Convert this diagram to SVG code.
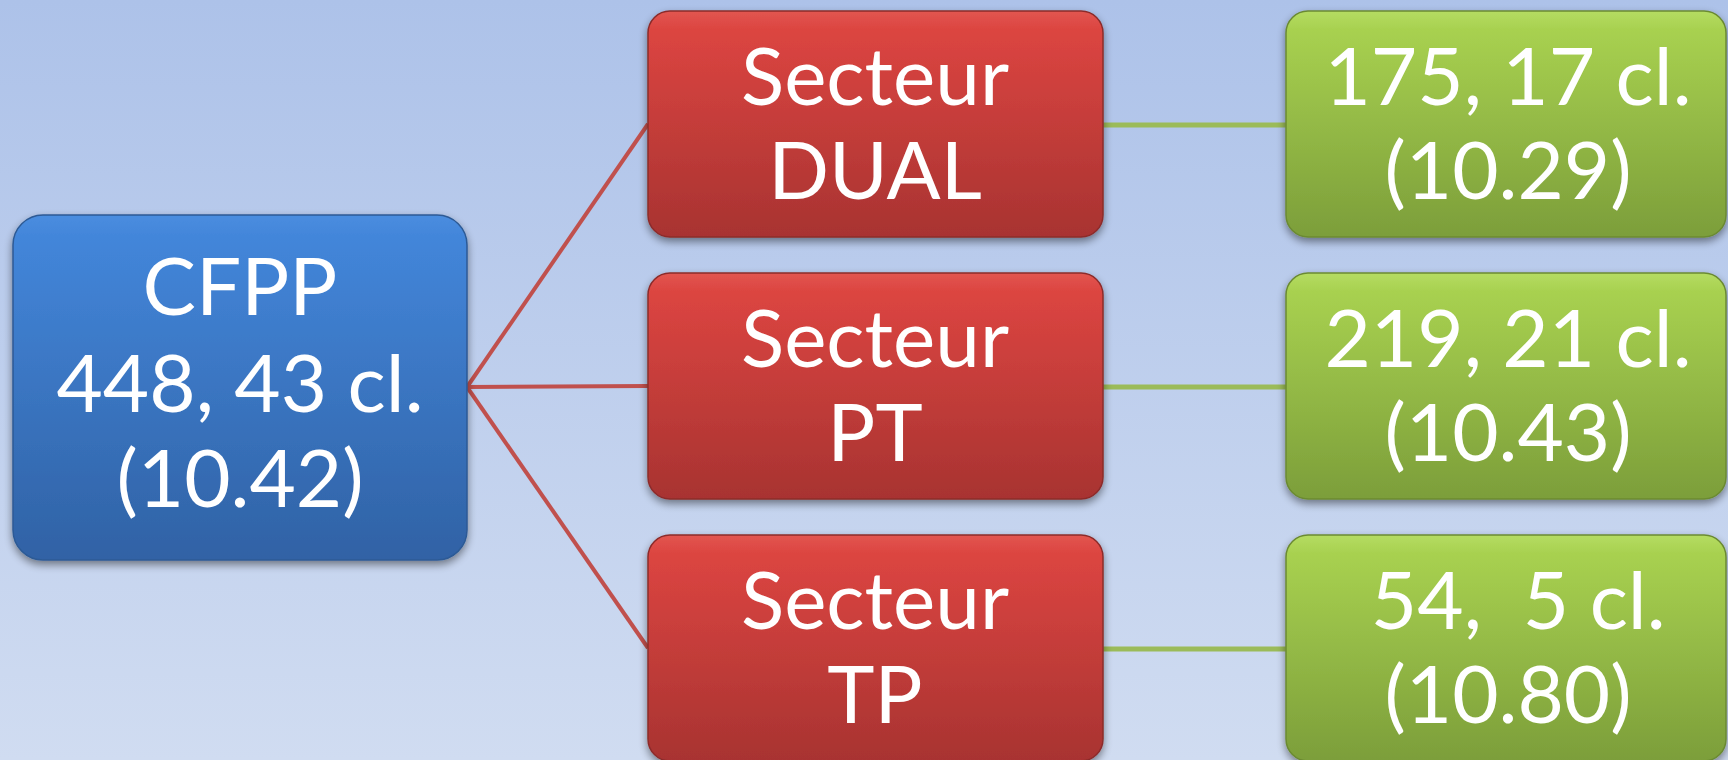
<svg xmlns="http://www.w3.org/2000/svg" width="1728" height="760" viewBox="0 0 1728 760">
  <defs>
    <linearGradient id="bg" x1="0" y1="0" x2="0" y2="1">
      <stop offset="0" stop-color="#adc2e9"/>
      <stop offset="1" stop-color="#d0dcf1"/>
    </linearGradient>
    <linearGradient id="gBlue" x1="0" y1="0" x2="0" y2="1">
      <stop offset="0" stop-color="#4a8ddf"/>
      <stop offset="0.06" stop-color="#4386da"/>
      <stop offset="1" stop-color="#3062a5"/>
    </linearGradient>
    <linearGradient id="gRed" x1="0" y1="0" x2="0" y2="1">
      <stop offset="0" stop-color="#e25650"/>
      <stop offset="0.08" stop-color="#dc4541"/>
      <stop offset="1" stop-color="#a83331"/>
    </linearGradient>
    <linearGradient id="gGreen" x1="0" y1="0" x2="0" y2="1">
      <stop offset="0" stop-color="#b5dc62"/>
      <stop offset="0.08" stop-color="#a8d150"/>
      <stop offset="1" stop-color="#7c9e3a"/>
    </linearGradient>
    <filter id="shadow" x="-10%" y="-10%" width="120%" height="125%">
      <feGaussianBlur in="SourceAlpha" stdDeviation="4"/>
      <feOffset dx="0" dy="4" result="b"/>
      <feComponentTransfer><feFuncA type="linear" slope="0.45"/></feComponentTransfer>
      <feMerge><feMergeNode/><feMergeNode in="SourceGraphic"/></feMerge>
    </filter>
  </defs>
  <style>
    .box { filter: url(#shadow); stroke-width: 1.5; }
    .blue { fill: url(#gBlue); stroke: #2d5a95; }
    .red { fill: url(#gRed); stroke: #8c2c2a; }
    .green { fill: url(#gGreen); stroke: #6b8a32; }
    .lbl { font-family: Lato, "Open Sans", sans-serif; font-size: 80px; fill: #ffffff; text-anchor: middle; }
    .cr { stroke: #c0504d; stroke-width: 4; fill: none; }
    .cg { stroke: #9bbb59; stroke-width: 5; fill: none; }
  </style>
  <rect x="0" y="0" width="1728" height="760" fill="url(#bg)"/>

  <g id="connectors">
    <line class="cr" x1="467" y1="387" x2="648" y2="124"/>
    <line class="cr" x1="467" y1="387" x2="648" y2="386"/>
    <line class="cr" x1="467" y1="387" x2="648" y2="648"/>
    <line class="cg" x1="1103" y1="125" x2="1286" y2="125"/>
    <line class="cg" x1="1103" y1="387" x2="1286" y2="387"/>
    <line class="cg" x1="1103" y1="649" x2="1286" y2="649"/>
  </g>

  <g id="cfpp">
    <rect class="box blue" x="13" y="215" width="454" height="345" rx="30"/>
    <text class="lbl" x="240" y="315">CFPP</text>
    <text class="lbl" x="240" y="412">448, 43 cl.</text>
    <text class="lbl" x="240" y="507">(10.42)</text>
  </g>

  <g id="dual">
    <rect class="box red" x="648" y="11" width="455" height="226" rx="22"/>
    <text class="lbl" x="875" y="105">Secteur</text>
    <text class="lbl" x="875" y="199">DUAL</text>
  </g>
  <g id="pt">
    <rect class="box red" x="648" y="273" width="455" height="226" rx="22"/>
    <text class="lbl" x="875" y="367">Secteur</text>
    <text class="lbl" x="875" y="461">PT</text>
  </g>
  <g id="tp">
    <rect class="box red" x="648" y="535" width="455" height="226" rx="22"/>
    <text class="lbl" x="875" y="629">Secteur</text>
    <text class="lbl" x="875" y="723">TP</text>
  </g>

  <g id="dual-stats">
    <rect class="box green" x="1286" y="11" width="440" height="226" rx="22"/>
    <text class="lbl" x="1508" y="105">175, 17 cl.</text>
    <text class="lbl" x="1508" y="199">(10.29)</text>
  </g>
  <g id="pt-stats">
    <rect class="box green" x="1286" y="273" width="440" height="226" rx="22"/>
    <text class="lbl" x="1508" y="367">219, 21 cl.</text>
    <text class="lbl" x="1508" y="461">(10.43)</text>
  </g>
  <g id="tp-stats">
    <rect class="box green" x="1286" y="535" width="440" height="226" rx="22"/>
    <text class="lbl" x="1508" y="629" xml:space="preserve"> 54,  5 cl.</text>
    <text class="lbl" x="1508" y="723">(10.80)</text>
  </g>
</svg>
